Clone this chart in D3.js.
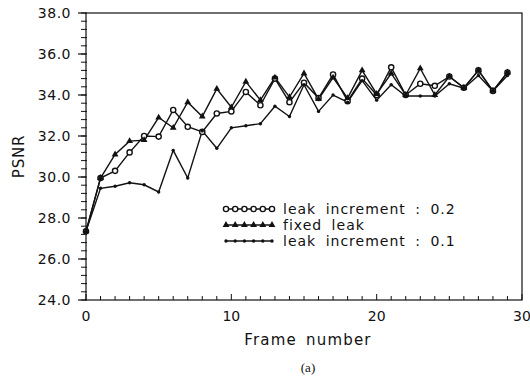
<!DOCTYPE html>
<html><head><meta charset="utf-8">
<script src="https://cdn.jsdelivr.net/npm/d3@7"></script>
<style>
html,body{margin:0;padding:0;background:#fff;}
svg{display:block;}
text{font-family:"DejaVu Sans",sans-serif;fill:#111;}
</style></head>
<body><svg id="c" width="530" height="380"></svg>
<script>
const frames = d3.range(0, 30);
const leak02 = [27.35,29.95,30.3,31.2,32.0,31.97,33.27,32.45,32.2,33.1,33.2,34.15,33.5,34.8,33.65,34.6,33.85,35.0,33.7,34.8,34.0,35.35,34.0,34.55,34.45,34.9,34.35,35.2,34.2,35.1];
const fixedLeak = [27.35,29.95,31.1,31.75,31.8,32.9,32.4,33.65,32.95,34.3,33.4,34.65,33.75,34.85,33.9,35.05,33.8,34.85,33.85,35.2,34.05,35.05,34.0,35.3,34.0,34.9,34.35,35.2,34.2,35.1];
const leak01 = [27.35,29.45,29.55,29.72,29.62,29.27,31.3,29.95,32.25,31.4,32.4,32.5,32.6,33.45,32.95,34.5,33.2,34.0,33.65,34.7,33.75,34.5,33.95,33.95,33.95,34.55,34.33,34.95,34.2,34.95];
const seriesNames = ["leak increment : 0.2","fixed leak","leak increment : 0.1"];
const xTickLabels = ["0","10","20","30"];

const svg = d3.select("#c");
const L = 86, R = 522, T = 13, B = 300;
const x = d3.scaleLinear().domain([0,30]).range([L,R]);
const y = d3.scaleLinear().domain([24,38]).range([B,T]);

// frame box
svg.append("rect").attr("x",L).attr("y",T).attr("width",R-L).attr("height",B-T)
  .attr("fill","none").attr("stroke","#111").attr("stroke-width",1.2);

// y axis ticks
const yMinor = d3.range(24, 38.001, 0.4);
svg.append("g").selectAll("line").data(yMinor).join("line")
  .attr("x1",L-5).attr("x2",L+1).attr("y1",d=>y(d)).attr("y2",d=>y(d))
  .attr("stroke","#111").attr("stroke-width",1);
const yMajor = d3.range(24, 38.001, 2);
svg.append("g").selectAll("line").data(yMajor).join("line")
  .attr("x1",L-8).attr("x2",L).attr("y1",d=>y(d)).attr("y2",d=>y(d))
  .attr("stroke","#111").attr("stroke-width",1.2);
svg.append("g").selectAll("text").data(yMajor).join("text")
  .attr("x",L-15).attr("y",d=>y(d)+5).attr("text-anchor","end")
  .style("font-size","14px").style("letter-spacing","0.5px").text(d=>d.toFixed(1));

// x axis ticks
svg.append("g").selectAll("line").data(d3.range(0,31)).join("line")
  .attr("x1",d=>x(d)).attr("x2",d=>x(d)).attr("y1",B).attr("y2",d=> d%10===0 ? B-6 : B-4)
  .attr("stroke","#111").attr("stroke-width",1);
svg.append("g").selectAll("text").data(xTickLabels).join("text")
  .attr("x",d=>x(+d)).attr("y",B+21).attr("text-anchor","middle")
  .style("font-size","14px").text(d=>d);

// axis titles
svg.append("text").attr("x",(L+R)/2+4).attr("y",B+45).attr("text-anchor","middle")
  .style("font-size","15px").style("letter-spacing","1.2px").style("word-spacing","3px").text("Frame number");
svg.append("text").attr("transform",`translate(24,${(T+B)/2}) rotate(-90)`).attr("text-anchor","middle")
  .style("font-size","15px").style("letter-spacing","0.8px").text("PSNR");
svg.append("text").attr("x",(L+R)/2+4).attr("y",B+72).attr("text-anchor","middle")
  .style("font-family","'Liberation Serif',serif").style("font-size","13px").text("(a)");

const line = d3.line().x((d,i)=>x(frames[i])).y(d=>y(d));
const series = [
  {name:seriesNames[0], vals:leak02, marker:"circle"},
  {name:seriesNames[1], vals:fixedLeak, marker:"tri"},
  {name:seriesNames[2], vals:leak01, marker:"dot"}
];
const tri = d3.symbol().type(d3.symbolTriangle).size(20);

function drawMarker(g, px, py, m){
  if(m==="circle") g.append("circle").attr("cx",px).attr("cy",py).attr("r",2.6)
      .attr("fill","#fff").attr("stroke","#111").attr("stroke-width",1.4);
  else if(m==="tri") g.append("path").attr("d",tri()).attr("transform",`translate(${px},${py})`).attr("fill","#111");
  else g.append("circle").attr("cx",px).attr("cy",py).attr("r",1.7).attr("fill","#111");
}

series.forEach(s=>{
  svg.append("path").datum(s.vals).attr("d",line).attr("fill","none")
    .attr("stroke","#111").attr("stroke-width",1.4);
});
series.forEach(s=>{
  const g = svg.append("g");
  s.vals.forEach((v,i)=>drawMarker(g, x(frames[i]), y(v), s.marker));
});

// legend
const lg = svg.append("g");
const lx0 = 226, lx1 = 272, ly0 = 209, ldy = 16;
series.forEach((s,k)=>{
  const yy = ly0 + k*ldy;
  lg.append("line").attr("x1",lx0).attr("x2",lx1).attr("y1",yy).attr("y2",yy)
    .attr("stroke","#111").attr("stroke-width",1.3);
  d3.range(0,6).forEach(j=>drawMarker(lg, lx0 + j*(lx1-lx0)/5, yy, s.marker));
  lg.append("text").attr("x",lx1+11).attr("y",yy+5).style("font-size","14px")
    .style("letter-spacing","1px").style("word-spacing","4px").text(s.name);
});
</script></body></html>
